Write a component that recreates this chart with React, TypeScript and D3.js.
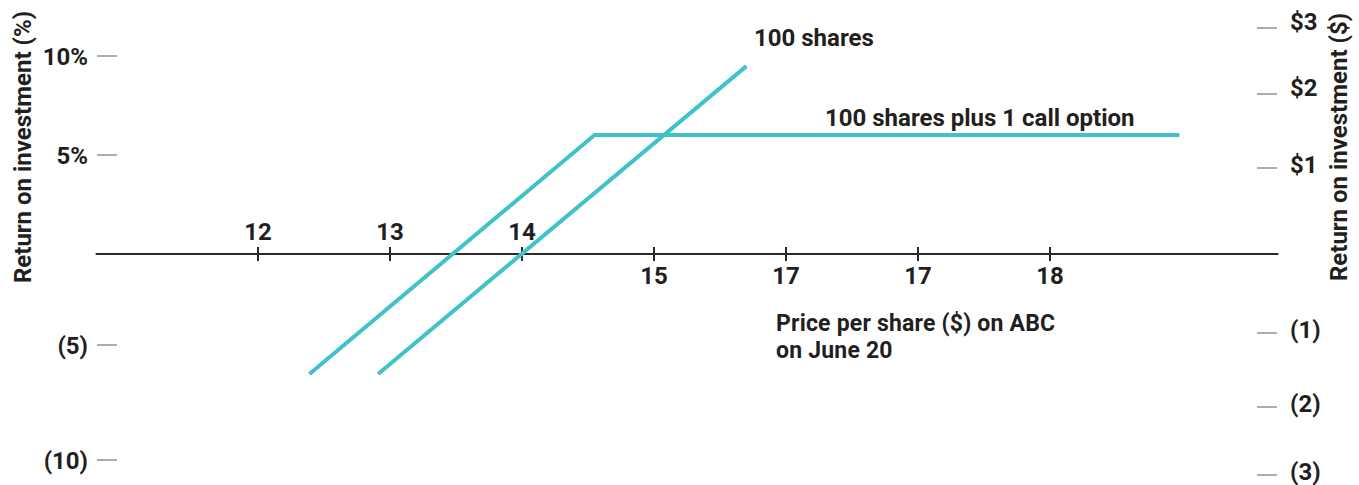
import React from "react";
import * as d3 from "d3";

// price ticks on the x axis (the source labels the 16 tick as "17")
const priceTicks = [12, 13, 14, 15, 16, 17, 18];
const priceLabels = ["12", "13", "14", "15", "17", "17", "18"];

// left axis: return in %
const pctTicks = [10, 5, -5, -10];
const pctLabels = ["10%", "5%", "(5)", "(10)"];

// right axis: return in $
const dollarTicks = [3, 2, 1, -1, -2, -3];
const dollarLabels = ["$3", "$2", "$1", "(1)", "(2)", "(3)"];

// series: price -> return (%)
const sharesOnly = [
  { price: 12.91, ret: -6.26 },
  { price: 15.7, ret: 9.49 },
];
const sharesPlusCall = [
  { price: 12.39, ret: -6.26 },
  { price: 14.55, ret: 6.01 },
  { price: 18.98, ret: 6.01 },
];

const W = 1359;
const H = 485;
const FONT = "Roboto, 'Noto Sans', sans-serif";
const INK = "#231f20";
const TEAL = "#40c2ca";
const TICKC = "#6c8794";
const FS = 24;

export default function App() {
  const x = d3.scaleLinear().domain([12, 18]).range([258, 1050]);
  // the printed gridding is not quite even, so a piecewise scale
  const y = d3.scaleLinear().domain([-10, -5, 0, 5, 10]).range([460, 345, 254, 155, 56]);
  const yR = d3
    .scaleLinear()
    .domain([-3, -2, -1, 0, 1, 2, 3])
    .range([475, 407, 333, 254, 168, 94, 28]);

  const line = d3
    .line<{ price: number; ret: number }>()
    .x((d) => x(d.price))
    .y((d) => y(d.ret));

  const y0 = y(0);
  const axisX0 = x(10.77);
  const axisX1 = x(19.73);

  return (
    <svg
      width={W}
      height={H}
      style={{ position: "absolute", left: 0, top: 0, background: "#fff" }}
      fontFamily={FONT}
      fontWeight={700}
      fill={INK}
    >
      {/* axis titles */}
      <text transform={`translate(31,147) rotate(-90)`} textAnchor="middle" fontSize={FS}>
        Return on investment (%)
      </text>
      <text transform={`translate(1347,147) rotate(-90)`} textAnchor="middle" fontSize={FS}>
        Return on investment ($)
      </text>

      {/* left ticks */}
      {pctTicks.map((t, i) => (
        <g key={i} transform={`translate(0,${y(t)})`}>
          <line x1={97} x2={117} stroke={TICKC} strokeWidth={1.3} />
          <text x={88} dy="0.36em" textAnchor="end" fontSize={FS}>
            {pctLabels[i]}
          </text>
        </g>
      ))}

      {/* right ticks */}
      {dollarTicks.map((t, i) => (
        <g key={i} transform={`translate(0,${yR(t)})`}>
          <line x1={1257} x2={1277} stroke={TICKC} strokeWidth={1.3} />
          <text x={1290} dy={t > 1 ? "0.1em" : "0.22em"} fontSize={FS}>
            {dollarLabels[i]}
          </text>
        </g>
      ))}

      {/* x axis */}
      <line x1={axisX0} x2={axisX1} y1={y0} y2={y0} stroke="#2b2b2b" strokeWidth={2} />
      {priceTicks.map((t, i) => (
        <g key={i} transform={`translate(${x(t)},${y0})`}>
          <line y1={-7} y2={7} stroke="#2b2b2b" strokeWidth={2} />
          <text y={i < 3 ? -14 : 30} textAnchor="middle" fontSize={FS}>
            {priceLabels[i]}
          </text>
        </g>
      ))}

      {/* lines */}
      <path d={line(sharesPlusCall) || ""} fill="none" stroke={TEAL} strokeWidth={4} />
      <path d={line(sharesOnly) || ""} fill="none" stroke={TEAL} strokeWidth={4} />

      {/* labels */}
      <text x={754} y={46} fontSize={FS}>100 shares</text>
      <text x={825} y={126} fontSize={FS}>100 shares plus 1 call option</text>
      <text x={776} y={331} fontSize={23} letterSpacing={0.2}>Price per share ($) on ABC</text>
      <text x={776} y={358} fontSize={23} letterSpacing={0.2}>on June 20</text>
    </svg>
  );
}
